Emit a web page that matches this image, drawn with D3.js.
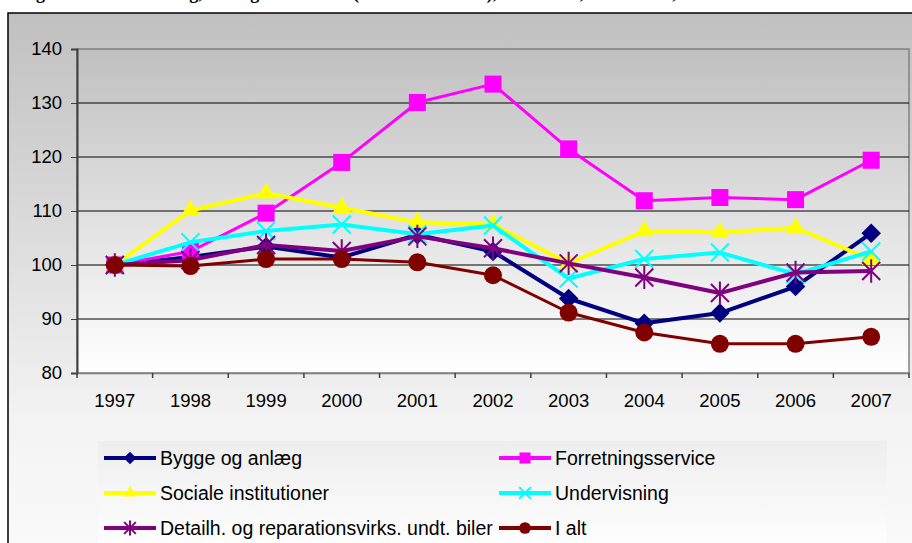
<!DOCTYPE html>
<html>
<head>
<meta charset="utf-8">
<script src="https://cdn.jsdelivr.net/npm/d3@7"></script>
<style>
  html, body { margin: 0; padding: 0; background: #fff; overflow: hidden; }
  svg { display: block; }
</style>
</head>
<body>
<svg id="chart" width="912" height="543"></svg>
<script>
const years = ["1997", "1998", "1999", "2000", "2001", "2002", "2003", "2004", "2005", "2006", "2007"];

const bygge = [100, 101.5, 103.4, 101.4, 105.6, 102.5, 93.8, 89.2, 91.1, 96.0, 105.9];
const forretning = [100, 102.5, 109.6, 119.0, 130.1, 133.5, 121.5, 111.9, 112.5, 112.1, 119.4];
const sociale = [100, 110.1, 113.3, 110.6, 107.9, 107.5, 100.3, 106.3, 106.0, 106.9, 101.0];
const undervisning = [100, 104.2, 106.3, 107.5, 105.7, 107.3, 97.5, 101.1, 102.3, 98.3, 102.5];
const detailh = [100, 100.9, 103.7, 102.6, 105.3, 103.1, 100.3, 97.7, 94.8, 98.6, 98.9];
const ialt = [100, 99.8, 101.1, 101.1, 100.5, 98.1, 91.2, 87.5, 85.4, 85.4, 86.7];

const yTicks = [80, 90, 100, 110, 120, 130, 140];

const series = [
  { name: "Bygge og anlæg", values: bygge, color: "#000080", marker: "diamond" },
  { name: "Forretningsservice", values: forretning, color: "#ff00ff", marker: "square" },
  { name: "Sociale institutioner", values: sociale, color: "#ffff00", marker: "triangle" },
  { name: "Undervisning", values: undervisning, color: "#00ffff", marker: "x" },
  { name: "Detailh. og reparationsvirks. undt. biler", values: detailh, color: "#800080", marker: "star" },
  { name: "I alt", values: ialt, color: "#800000", marker: "circle" }
];

const svg = d3.select("#chart");
const defs = svg.append("defs");

function vgrad(id, stops) {
  const g = defs.append("linearGradient").attr("id", id)
    .attr("x1", 0).attr("y1", 0).attr("x2", 0).attr("y2", 1);
  stops.forEach(s => g.append("stop").attr("offset", s[0]).attr("stop-color", s[1]));
}
vgrad("outerGrad", [[0, "#c0c0c0"], [0.75, "#f3f3f3"], [1, "#fafafa"]]);
vgrad("plotGrad", [[0, "#c0c0c0"], [1, "#ffffff"]]);
vgrad("legGrad", [[0, "#eeeeee"], [1, "#ffffff"]]);

// title, cut off at the top edge like in the original
svg.append("text")
  .attr("x", 20).attr("y", -1)
  .attr("font-family", "Liberation Serif, serif")
  .attr("font-weight", "bold")
  .attr("font-size", 18)
  .text("Figur 4.2 Lønudvikling, udvalgte brancher (indeks 1997=100), 1997-2007, hele landet,");

// chart area
svg.append("rect")
  .attr("x", 8).attr("y", 13).attr("width", 920).attr("height", 540)
  .attr("fill", "url(#outerGrad)")
  .attr("stroke", "#000").attr("stroke-width", 1.5);

const margin = { left: 77, top: 49, right: 909, bottom: 373 };

const x = d3.scaleBand().domain(years).range([margin.left, margin.right]).paddingInner(0).paddingOuter(0);
const y = d3.scaleLinear().domain([80, 140]).range([margin.bottom, margin.top]);
const cx = d => x(d) + x.bandwidth() / 2;

// plot area
svg.append("rect")
  .attr("x", margin.left).attr("y", margin.top)
  .attr("width", margin.right - margin.left).attr("height", margin.bottom - margin.top)
  .attr("fill", "url(#plotGrad)")
  .attr("stroke", "#808080").attr("stroke-width", 1.5);

// gridlines
svg.append("g")
  .selectAll("line")
  .data(yTicks.filter(t => t > 80 && t < 140))
  .join("line")
  .attr("x1", margin.left).attr("x2", margin.right)
  .attr("y1", d => y(d)).attr("y2", d => y(d))
  .attr("stroke", "#000").attr("stroke-width", 1);

// y axis
const yAxis = svg.append("g")
  .attr("transform", `translate(${margin.left},0)`)
  .call(d3.axisLeft(y).tickValues(yTicks).tickSize(6).tickPadding(9).tickFormat(d3.format("d")));
yAxis.select(".domain").attr("stroke", "#404040").attr("stroke-width", 2);
yAxis.selectAll(".tick line").attr("stroke", "#404040");
yAxis.selectAll("text")
  .attr("font-family", "Liberation Sans, Arial, sans-serif")
  .attr("font-size", 18.5).attr("fill", "#000");

// x axis
const xAxis = svg.append("g")
  .attr("transform", `translate(0,${margin.bottom})`)
  .call(d3.axisBottom(x).tickSize(0).tickPadding(21));
xAxis.select(".domain").attr("stroke", "#808080").attr("stroke-width", 1.5);
xAxis.selectAll("text")
  .attr("font-family", "Liberation Sans, Arial, sans-serif")
  .attr("font-size", 18.5).attr("fill", "#000");
xAxis.append("g")
  .selectAll("line")
  .data(years.concat(["end"]))
  .join("line")
  .attr("x1", (d, i) => i < years.length ? x(d) : margin.right)
  .attr("x2", (d, i) => i < years.length ? x(d) : margin.right)
  .attr("y1", 0).attr("y2", 5)
  .attr("stroke", "#404040").attr("stroke-width", 1.5);

function drawMarker(g, type, color, scale) {
  const s = scale || 1;
  if (type === "diamond") {
    g.append("path").attr("d", d3.symbol(d3.symbolSquare, 190 * s * s)())
      .attr("transform", "rotate(45)").attr("fill", color);
  } else if (type === "square") {
    g.append("path").attr("d", d3.symbol(d3.symbolSquare, 290 * s * s)()).attr("fill", color);
  } else if (type === "triangle") {
    g.append("path").attr("d", d3.symbol(d3.symbolTriangle, 150 * s * s)()).attr("fill", color);
  } else if (type === "circle") {
    g.append("circle").attr("r", 9 * s).attr("fill", color);
  } else if (type === "x") {
    const r = 9 * s;
    g.append("path").attr("d", `M${-r},${-r}L${r},${r}M${-r},${r}L${r},${-r}`)
      .attr("stroke", color).attr("stroke-width", 2).attr("fill", "none");
  } else if (type === "star") {
    const r = 9 * s;
    g.append("path").attr("d", `M${-r},${-r}L${r},${r}M${-r},${r}L${r},${-r}M0,${-r * 1.3}L0,${r * 1.3}`)
      .attr("stroke", color).attr("stroke-width", 2).attr("fill", "none");
  }
}

const line = d3.line().x((d, i) => cx(years[i])).y(d => y(d));

series.forEach(s => {
  const g = svg.append("g");
  g.append("path")
    .datum(s.values)
    .attr("d", line)
    .attr("fill", "none")
    .attr("stroke", s.color)
    .attr("stroke-width", s.marker === "circle" || s.marker === "square" ? 3 : 4)
    .attr("stroke-linejoin", "round");
  g.selectAll("g.m")
    .data(s.values)
    .join("g")
    .attr("class", "m")
    .attr("transform", (d, i) => `translate(${cx(years[i])},${y(d)})`)
    .each(function () { drawMarker(d3.select(this), s.marker, s.color); });
});

// legend
svg.append("rect")
  .attr("x", 98).attr("y", 441).attr("width", 789).attr("height", 110)
  .attr("fill", "url(#legGrad)");

const legCols = [104, 499];
const legRows = [458, 493, 528];
series.forEach((s, i) => {
  const lx = legCols[i % 2];
  const ly = legRows[Math.floor(i / 2)];
  const g = svg.append("g").attr("transform", `translate(${lx},${ly})`);
  g.append("line").attr("x1", 0).attr("x2", 52).attr("y1", 0).attr("y2", 0)
    .attr("stroke", s.color).attr("stroke-width", 4);
  const mg = g.append("g").attr("transform", "translate(26,0)");
  drawMarker(mg, s.marker, s.color, 0.65);
  g.append("text")
    .attr("x", 56).attr("y", 0).attr("dy", "0.35em")
    .attr("font-family", "Liberation Sans, Arial, sans-serif")
    .attr("font-size", 19.5).attr("fill", "#000")
    .text(s.name);
});
</script>
</body>
</html>
